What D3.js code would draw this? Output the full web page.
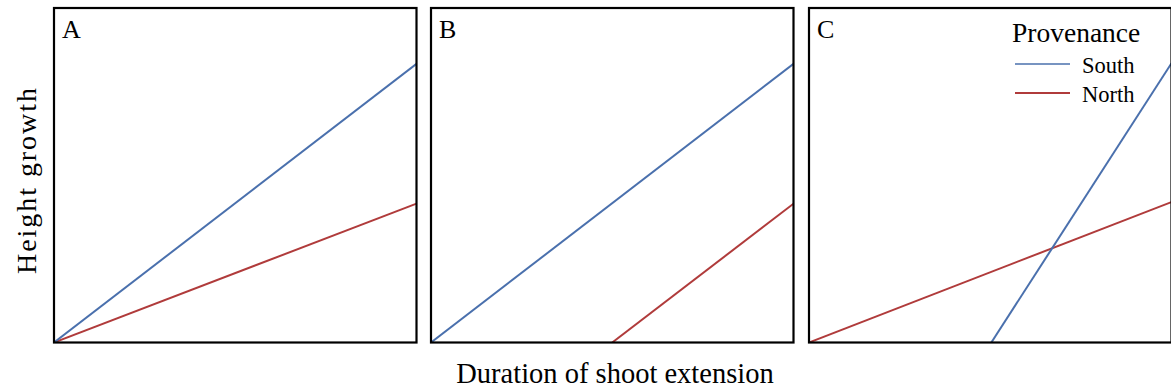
<!DOCTYPE html>
<html>
<head>
<meta charset="utf-8">
<script src="https://cdn.jsdelivr.net/npm/d3@7"></script>
<style>
  html, body { margin: 0; padding: 0; background: #fff; }
  svg { display: block; }
  text { font-family: "Liberation Serif", "Times New Roman", serif; fill: #000; }
</style>
</head>
<body>
<svg id="chart" width="1171" height="392"></svg>
<script>
// Conceptual model: height growth vs. duration of shoot extension, by provenance
const panelLabels = ["A", "B", "C"];
// Each line is [start, end] in (duration, growth) units on a 0–10 scale
const southLines = [
  [[0, 0], [10, 8.33]],
  [[0, 0], [10, 8.33]],
  [[5.03, 0], [10, 8.35]]
];
const northLines = [
  [[0, 0], [10, 4.15]],
  [[5.0, 0], [10, 4.15]],
  [[0, 0], [10, 4.2]]
];
const seriesNames = ["South", "North"];
const seriesColors = ["#4a70ad", "#b03b3b"];
const xTitle = "Duration of shoot extension";
const yTitle = "Height growth";
const legendTitle = "Provenance";

const svg = d3.select("#chart");
const panelLefts = [54, 431, 809];
const panelWidth = 362.5;
const plotTop = 8, plotBottom = 342.5;

const y = d3.scaleLinear().domain([0, 10]).range([plotBottom, plotTop]);

panelLabels.forEach((lab, i) => {
  const x = d3.scaleLinear().domain([0, 10]).range([panelLefts[i], panelLefts[i] + panelWidth]);
  const g = svg.append("g");
  const clipId = "clip" + i;
  svg.append("clipPath").attr("id", clipId)
    .append("rect")
    .attr("x", panelLefts[i]).attr("y", plotTop)
    .attr("width", panelWidth).attr("height", plotBottom - plotTop);

  const line = d3.line().x(d => x(d[0])).y(d => y(d[1]));
  const lines = g.append("g").attr("clip-path", `url(#${clipId})`);
  lines.append("path").datum(northLines[i])
    .attr("d", line).attr("fill", "none")
    .attr("stroke", seriesColors[1]).attr("stroke-width", 2);
  lines.append("path").datum(southLines[i])
    .attr("d", line).attr("fill", "none")
    .attr("stroke", seriesColors[0]).attr("stroke-width", 2);

  g.append("rect")
    .attr("x", panelLefts[i]).attr("y", plotTop)
    .attr("width", panelWidth).attr("height", plotBottom - plotTop)
    .attr("fill", "none").attr("stroke", "#000").attr("stroke-width", 2.2);

  g.append("text")
    .attr("x", panelLefts[i] + 8).attr("y", 38)
    .attr("font-size", 26)
    .text(lab);
});

// Axis titles
svg.append("text")
  .attr("x", 615).attr("y", 383)
  .attr("text-anchor", "middle")
  .attr("font-size", 28.5)
  .text(xTitle);

svg.append("text")
  .attr("transform", "translate(36,181) rotate(-90)")
  .attr("text-anchor", "middle")
  .attr("font-size", 28)
  .attr("textLength", 186)
  .attr("lengthAdjust", "spacing")
  .text(yTitle);

// Legend
const leg = svg.append("g");
leg.append("text").attr("x", 1012).attr("y", 42)
  .attr("font-size", 27.5).text(legendTitle);
seriesNames.forEach((name, k) => {
  const yy = 64 + k * 29;
  leg.append("line")
    .attr("x1", 1015).attr("x2", 1070)
    .attr("y1", yy).attr("y2", yy)
    .attr("stroke", seriesColors[k]).attr("stroke-width", k === 0 ? 1.6 : 2);
  leg.append("text").attr("x", 1082).attr("y", yy + 9)
    .attr("font-size", 22.5).text(name);
});
</script>
</body>
</html>
